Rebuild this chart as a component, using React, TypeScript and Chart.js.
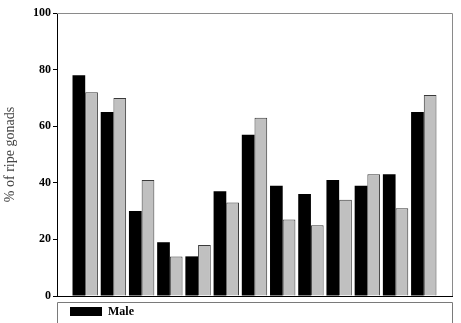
import React, { useEffect, useRef } from "react";
import { Chart, registerables } from "chart.js";

Chart.register(...registerables);

const groupPositions = [1, 2, 3, 4, 5, 6, 7, 8, 9, 10, 11, 12, 13];
const maleValues = [78, 65, 30, 19, 14, 37, 57, 39, 36, 41, 39, 43, 65];
const femaleValues = [72, 70, 41, 14, 18, 33, 63, 27, 25, 34, 43, 31, 71];
const yTickValues = [0, 20, 40, 60, 80, 100];
const seriesLabels = ["Male", "Female"];
const yTitle = "% of ripe gonads";

const framePlugin = {
  id: "frameAndLegend",
  afterDraw(chart: any) {
    const { ctx, chartArea } = chart;
    const { left, right, top, bottom } = chartArea;
    ctx.save();
    ctx.strokeStyle = "#8a8a8a";
    ctx.lineWidth = 1;
    ctx.beginPath();
    ctx.moveTo(left, top + 0.5);
    ctx.lineTo(right + 0.5, top + 0.5);
    ctx.lineTo(right + 0.5, bottom);
    ctx.stroke();

    const boxTop = bottom + 6.5;
    ctx.strokeStyle = "#7a7a7a";
    ctx.beginPath();
    ctx.moveTo(left + 0.5, chart.height + 2);
    ctx.lineTo(left + 0.5, boxTop);
    ctx.lineTo(right + 0.5, boxTop);
    ctx.lineTo(right + 0.5, chart.height + 2);
    ctx.stroke();

    const ds = chart.data.datasets[0];
    ctx.fillStyle = ds.backgroundColor;
    ctx.fillRect(left + 13, boxTop + 4.5, 32, 9);
    ctx.fillStyle = "#000";
    ctx.font = "bold 12px 'Liberation Serif', serif";
    ctx.textBaseline = "middle";
    ctx.textAlign = "left";
    ctx.fillText(ds.label, left + 51, boxTop + 9.5);
    ctx.restore();
  },
};

export default function App() {
  const canvasRef = useRef<HTMLCanvasElement | null>(null);

  useEffect(() => {
    const canvas = canvasRef.current;
    if (!canvas) return;
    const chart = new Chart(canvas, {
      type: "bar",
      data: {
        datasets: [
          {
            label: seriesLabels[0],
            data: groupPositions.map((x, i) => ({ x, y: maleValues[i] })),
            backgroundColor: "#000000",
            borderColor: "#000000",
            borderWidth: 0,
            categoryPercentage: 0.9,
            barPercentage: 1,
          },
          {
            label: seriesLabels[1],
            data: groupPositions.map((x, i) => ({ x, y: femaleValues[i] })),
            backgroundColor: "#c0c0c0",
            borderColor: "#3a3a3a",
            borderWidth: 1,
            categoryPercentage: 0.9,
            barPercentage: 1,
          },
        ],
      },
      options: {
        responsive: false,
        devicePixelRatio: 1,
        animation: false,
        layout: { padding: { left: 0, right: 9, top: 13, bottom: 27 } },
        plugins: {
          legend: { display: false },
          tooltip: { enabled: false },
        },
        scales: {
          x: {
            type: "linear",
            min: 0,
            max: 14,
            offset: false,
            ticks: { display: false },
            grid: { display: false },
            border: { display: true, color: "#000", width: 1 },
            afterFit: (scale: any) => {
              scale.height = 0;
            },
          },
          y: {
            min: 0,
            max: 100,
            afterBuildTicks: (scale: any) => {
              scale.ticks = yTickValues.map((v) => ({ value: v }));
            },
            afterFit: (scale: any) => {
              scale.width = 57;
            },
            ticks: {
              color: "#000",
              padding: 2,
              font: { family: "'Liberation Serif', serif", size: 12, weight: "bold" },
            },
            grid: {
              drawOnChartArea: false,
              drawTicks: true,
              tickLength: 4,
              color: "#000",
            },
            border: { display: true, color: "#000", width: 1 },
            title: {
              display: true,
              text: yTitle,
              color: "#444",
              padding: { top: 2, bottom: 0 },
              font: { family: "'Liberation Serif', serif", size: 14, weight: "normal" },
            },
          },
        },
      },
      plugins: [framePlugin],
    } as any);
    return () => chart.destroy();
  }, []);

  return (
    <div style={{ position: "absolute", left: 0, top: 0, width: 461, height: 323, background: "#fff" }}>
      <canvas ref={canvasRef} width={461} height={323} />
    </div>
  );
}
